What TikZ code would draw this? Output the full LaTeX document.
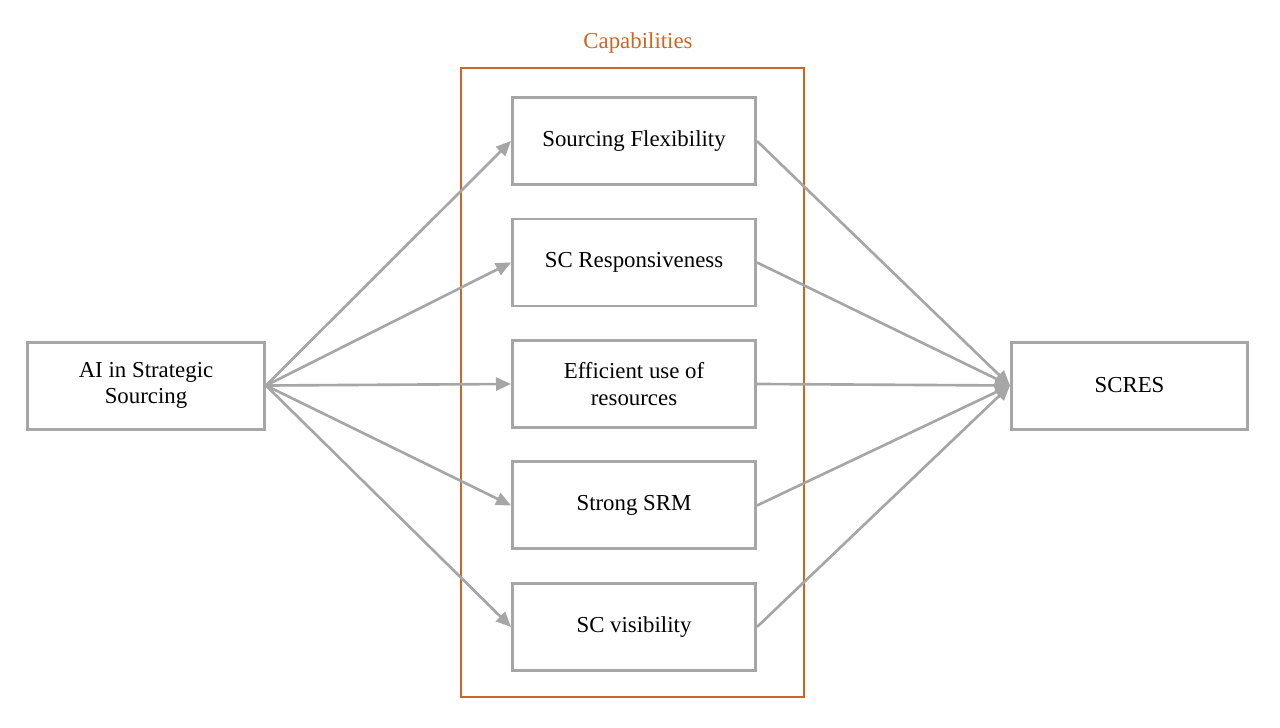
\documentclass[tikz,border=0pt]{standalone}
\usepackage{fontspec}
\setmainfont{Liberation Serif}
\definecolor{boxgrey}{RGB}{166,166,166}
\definecolor{caporange}{RGB}{204,102,38}
\usetikzlibrary{shapes,arrows.meta,positioning,calc}
\usepackage{xcolor}

\tikzset{
    factor/.style={draw=boxgrey,line width=1.7pt,fill=white,
                   minimum width=4.86cm,minimum height=1.74cm,
                   align=center,font=\fontsize{13}{15}\selectfont},
    link/.style={draw=boxgrey,line width=1.5pt,
                 -{Triangle[length=0.3cm,width=0.26cm]}}
}

\begin{document}
\begin{tikzpicture}
                \useasboundingbox (0,0) rectangle (25.6,-14.54);
                % capabilities frame
                \draw[draw=caporange,line width=0.8pt] (9.22,-1.36) rectangle (16.08,-13.94);
                \node[text=caporange,font=\fontsize{13}{15}\selectfont] (caplabel) at (12.76,-0.86) {Capabilities};

                \node[factor,minimum width=4.74cm] (aiss) at (2.92,-7.71) {AI in Strategic\\Sourcing};

                \node[factor] (flex) at (12.68,-2.82) {Sourcing Flexibility};
                \node[factor,below=0.63cm of flex] (resp) {SC Responsiveness};
                \node[factor,below=0.63cm of resp] (effic) {Efficient use of\\resources};
                \node[factor,below=0.63cm of effic] (srm) {Strong SRM};
                \node[factor,below=0.63cm of srm] (visib) {SC visibility};

                \node[factor,minimum width=4.72cm] (scres) at (22.59,-7.71) {SCRES};

                \foreach \cap in {flex,resp,effic,srm,visib} {
                    \draw[link] (aiss.east) -- (\cap.west);
                    \draw[link] (\cap.east) -- (scres.west);
                }
            \end{tikzpicture}
\end{document}
